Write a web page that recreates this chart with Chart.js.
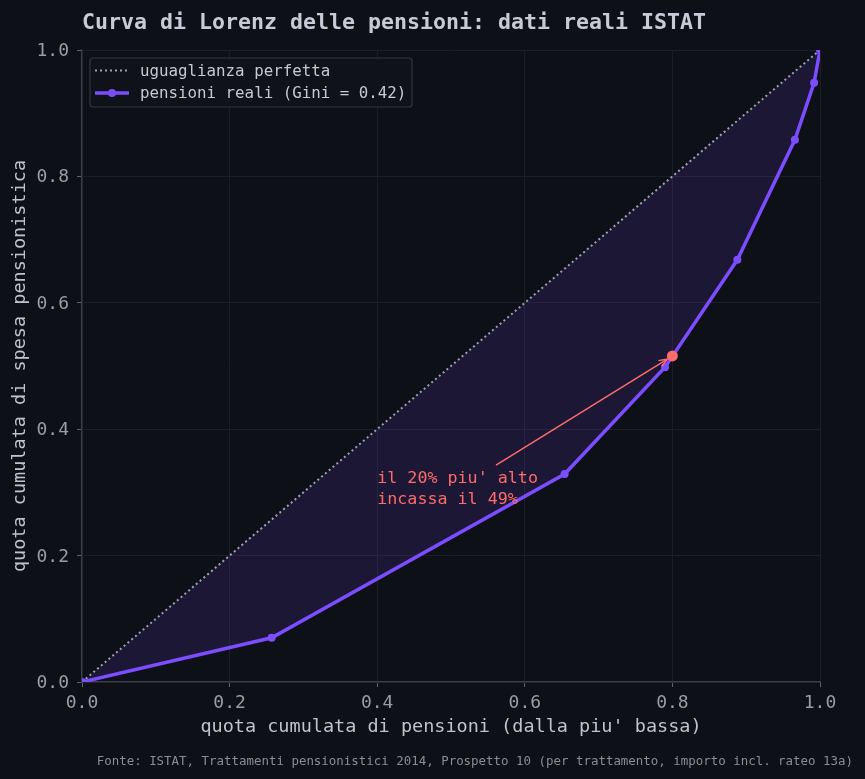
<!DOCTYPE html>
<html>
<head>
<meta charset="utf-8">
<script src="https://cdn.jsdelivr.net/npm/chart.js@4.4.0/dist/chart.umd.min.js"></script>
<style>
html,body{margin:0;padding:0;background:#0d1017;}
#wrap{width:865px;height:779px;position:relative;}
</style>
</head>
<body>
<div id="wrap"><canvas id="c"></canvas></div>
<script>
// ---- data ----
const lorenzX = [0.0, 0.257, 0.654, 0.790, 0.888, 0.966, 0.992, 1.0];
const lorenzY = [0.0, 0.070, 0.329, 0.498, 0.668, 0.858, 0.948, 1.0];
const equalX = [0.0, 1.0];
const equalY = [0.0, 1.0];
const top20X = [0.80];
const top20Y = [0.516];
const tickValues = [0.0, 0.2, 0.4, 0.6, 0.8, 1.0];
const titleText = "Curva di Lorenz delle pensioni: dati reali ISTAT";
const xTitle = "quota cumulata di pensioni (dalla piu' bassa)";
const yTitle = "quota cumulata di spesa pensionistica";
const legendLabels = ["uguaglianza perfetta", "pensioni reali (Gini = 0.42)"];
const annotationLines = ["il 20% piu' alto", "incassa il 49%"];
const annotationAnchor = [0.40, 0.321];
const arrowStart = [0.561, 0.343];
const footerText = "Fonte: ISTAT, Trattamenti pensionistici 2014, Prospetto 10 (per trattamento, importo incl. rateo 13a)";

const FONT = "'DejaVu Sans Mono', monospace";
const PURPLE = '#7c4dff';
const RED = '#ff6b6b';

const toPts = (xs, ys) => xs.map((x, i) => ({x: x, y: ys[i]}));

const overlay = {
  id: 'overlay',
  afterDatasetsDraw(chart) {
    const ctx = chart.ctx;
    const xs = chart.scales.x, ys = chart.scales.y;
    // annotation arrow
    const sx = xs.getPixelForValue(arrowStart[0]), sy = ys.getPixelForValue(arrowStart[1]);
    const px = xs.getPixelForValue(top20X[0]), py = ys.getPixelForValue(top20Y[0]);
    const ang = Math.atan2(py - sy, px - sx);
    const ex = px - Math.cos(ang) * 6, ey = py - Math.sin(ang) * 6;
    ctx.save();
    ctx.strokeStyle = RED;
    ctx.lineWidth = 1.5;
    ctx.beginPath();
    ctx.moveTo(sx, sy);
    ctx.lineTo(ex, ey);
    ctx.stroke();
    ctx.beginPath();
    const hl = 9, ha = 0.38;
    ctx.moveTo(ex - hl * Math.cos(ang - ha), ey - hl * Math.sin(ang - ha));
    ctx.lineTo(ex, ey);
    ctx.lineTo(ex - hl * Math.cos(ang + ha), ey - hl * Math.sin(ang + ha));
    ctx.stroke();
    // annotation text
    ctx.fillStyle = RED;
    ctx.font = "16.7px " + FONT;
    ctx.textAlign = 'left';
    ctx.textBaseline = 'middle';
    const tx = xs.getPixelForValue(annotationAnchor[0]);
    const ty = ys.getPixelForValue(annotationAnchor[1]);
    annotationLines.forEach((l, i) => ctx.fillText(l, tx, ty + i * 21));
    ctx.restore();
  },
  afterDraw(chart) {
    const ctx = chart.ctx;
    ctx.save();
    // title
    ctx.fillStyle = '#c9cad8';
    ctx.font = "bold 21.6px " + FONT;
    ctx.textAlign = 'left';
    ctx.textBaseline = 'middle';
    ctx.fillText(titleText, chart.chartArea.left, 23.5);
    // footer
    ctx.fillStyle = '#8a8c96';
    ctx.font = "12.45px " + FONT;
    ctx.textAlign = 'right';
    ctx.fillText(footerText, 853, 761.5);
    // legend
    const bx = chart.chartArea.left + 8, by = chart.chartArea.top + 8, bw = 322, bh = 49;
    ctx.fillStyle = 'rgba(16,19,26,0.9)';
    ctx.strokeStyle = '#33363f';
    ctx.lineWidth = 1.2;
    ctx.beginPath();
    ctx.roundRect(bx, by, bw, bh, 3);
    ctx.fill();
    ctx.stroke();
    const r1 = by + 12.5, r2 = by + 35;
    ctx.strokeStyle = '#a0a0b0';
    ctx.lineWidth = 2;
    ctx.setLineDash([2, 3]);
    ctx.beginPath(); ctx.moveTo(bx + 5, r1); ctx.lineTo(bx + 39, r1); ctx.stroke();
    ctx.setLineDash([]);
    ctx.strokeStyle = PURPLE;
    ctx.lineWidth = 3.5;
    ctx.beginPath(); ctx.moveTo(bx + 5, r2); ctx.lineTo(bx + 39, r2); ctx.stroke();
    ctx.fillStyle = PURPLE;
    ctx.beginPath(); ctx.arc(bx + 22, r2, 4, 0, Math.PI * 2); ctx.fill();
    ctx.fillStyle = '#c8c8d4';
    ctx.font = "15.8px " + FONT;
    ctx.textAlign = 'left';
    ctx.fillText(legendLabels[0], bx + 50, r1 + 1.2);
    ctx.fillText(legendLabels[1], bx + 50, r2 + 1.2);
    ctx.restore();
  }
};

const gridOpts = {color: '#1b1e26', lineWidth: 1, tickColor: '#5f636d', tickLength: 5, drawTicks: true};
const borderOpts = {color: '#3c404a', width: 1.2};

new Chart(document.getElementById('c'), {
  type: 'scatter',
  data: {
    datasets: [
      {
        label: legendLabels[0],
        data: toPts(equalX, equalY),
        showLine: true,
        borderColor: '#a0a0b0',
        borderWidth: 2,
        borderDash: [2, 3],
        pointRadius: 0,
        fill: {target: 1},
        backgroundColor: 'rgba(124,77,255,0.13)',
        clip: 0,
        order: 2
      },
      {
        label: legendLabels[1],
        data: toPts(lorenzX, lorenzY),
        showLine: true,
        borderColor: PURPLE,
        borderWidth: 3.5,
        pointRadius: 4,
        pointBackgroundColor: PURPLE,
        pointBorderWidth: 0,
        fill: false,
        clip: 0,
        order: 1
      },
      {
        label: 'top20',
        data: toPts(top20X, top20Y),
        showLine: false,
        pointRadius: 5.5,
        pointBackgroundColor: RED,
        pointBorderWidth: 0,
        clip: 0,
        order: 0
      }
    ]
  },
  options: {
    responsive: true,
    maintainAspectRatio: false,
    animation: false,
    events: [],
    layout: {padding: {left: 0, right: 45, top: 50, bottom: 0}},
    plugins: {legend: {display: false}, title: {display: false}, tooltip: {enabled: false}},
    scales: {
      x: {
        type: 'linear', min: 0, max: 1,
        afterFit: s => { s.height = 97; },
        afterBuildTicks: s => { s.ticks = tickValues.map(v => ({value: v})); },
        ticks: {color: '#9a9ca6', font: {family: FONT, size: 18}, padding: 5.5, callback: v => v.toFixed(1)},
        grid: gridOpts,
        border: borderOpts,
        title: {display: true, text: xTitle, color: '#c0c2cc', font: {family: FONT, size: 18.5}, padding: {top: 0, bottom: 40.5}}
      },
      y: {
        type: 'linear', min: 0, max: 1,
        afterFit: s => { s.width = 82; },
        afterBuildTicks: s => { s.ticks = tickValues.map(v => ({value: v})); },
        ticks: {color: '#9a9ca6', font: {family: FONT, size: 18}, padding: 8, labelOffset: 1.3, callback: v => v.toFixed(1)},
        grid: gridOpts,
        border: borderOpts,
        title: {display: true, text: yTitle, color: '#c0c2cc', font: {family: FONT, size: 18.5}, padding: {top: 9.5, bottom: 0}}
      }
    }
  },
  plugins: [overlay]
});
</script>
</body>
</html>
